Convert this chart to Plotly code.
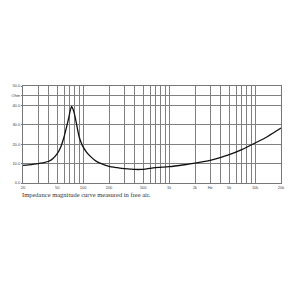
import plotly.graph_objects as go

freq = [20, 25, 30, 35, 40, 45, 50, 55, 60, 65, 68, 71, 73.5, 76, 80, 85, 90, 95, 100, 110, 125, 140, 160, 200, 250, 300, 350, 400, 475, 550, 650, 750, 1000, 1500, 2000, 3000, 4000, 5000, 7000, 10000, 14000, 20000]
imp = [9.1, 9.5, 10.0, 10.5, 11.2, 12.8, 15.1, 18.6, 23.7, 29.8, 33.5, 37.5, 39.5, 38.3, 34.9, 29.0, 23.7, 20.8, 18.6, 15.8, 13.2, 11.4, 10.1, 8.6, 7.9, 7.4, 7.2, 7.0, 7.0, 7.3, 7.8, 8.1, 8.4, 9.4, 10.3, 11.7, 13.2, 14.6, 17.2, 20.6, 24.0, 28.3]

grid_x = [20, 30, 40, 50, 60, 70, 80, 90, 100, 200, 300, 400, 500, 600, 700, 800, 900,
          1000, 2000, 3000, 4000, 5000, 6000, 7000, 8000, 9000, 10000, 20000]
labels_x = {20: "20", 50: "50", 100: "100", 200: "200", 500: "500", 1000: "1k",
            2000: "2k", 3000: "Hz", 5000: "5k", 10000: "10k", 20000: "20k"}
grid_text = [labels_x.get(v, "") for v in grid_x]

y_vals = [0, 10, 20, 30, 40, 45, 50]
y_text = ["0.0", "10.0", "20.0", "30.0", "40.0", "Ohm", "50.0"]
caption = "Impedance magnitude curve measured in free air."

fig = go.Figure()
fig.add_trace(go.Scatter(x=freq, y=imp, mode="lines", line=dict(color="#111", width=1.3, shape="spline", smoothing=0.5), showlegend=False, hoverinfo="skip"))

fig.update_xaxes(type="log", range=[1.30103, 4.30103], tickvals=grid_x, ticktext=grid_text,
                 showgrid=True, gridcolor="#808080", gridwidth=1, zeroline=False,
                 showline=True, linecolor="#777", linewidth=1, mirror=True,
                 tickfont=dict(size=4, color="#444", family="Liberation Sans"), ticks="", ticklen=0)
fig.update_yaxes(range=[0, 50], tickvals=y_vals, ticktext=y_text,
                 showgrid=True, gridcolor="#808080", gridwidth=1, zeroline=False,
                 showline=True, linecolor="#777", linewidth=1, mirror=True,
                 tickfont=dict(size=4, color="#444", family="Liberation Sans"), ticks="outside", ticklen=1, tickcolor="#777")

fig.add_annotation(text=caption, xref="paper", yref="paper", x=0, y=-0.115,
                   xanchor="left", yanchor="middle", showarrow=False,
                   font=dict(family="Liberation Serif", size=6.5, color="#333"), xshift=-3)

fig.update_layout(width=300, height=300, margin=dict(l=21, r=19, t=86, b=117),
                  paper_bgcolor="white", plot_bgcolor="white")
fig.write_html("out.html")
